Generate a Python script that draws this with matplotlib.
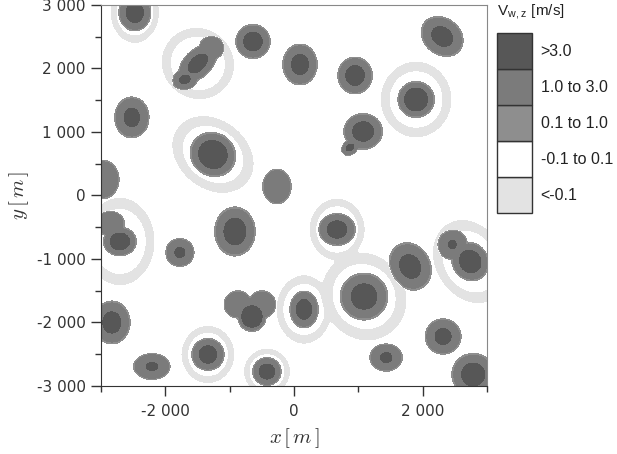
import numpy as np
import matplotlib
matplotlib.use('Agg')
import matplotlib.pyplot as plt
from matplotlib.ticker import MultipleLocator, FuncFormatter

plt.rcParams['mathtext.fontset'] = 'cm'

# thermals (m): centre, updraft radii, tilt, core size, downdraft ring radii
thermal_x = [-2474, -1494, -1696, -1276, -638, 93, 949, 2303, 1898, 1074, 871, -2521,
             -1260, -2972, -265, -2707, -2863, -1774, -918, 669, 1805, 2739, 2459,
             -2832, -2210, -654, -871, -498, 156, -1338, -420, 1089, 1432, 2318, 2785]
thermal_y = [2882, 2079, 1827, 2331, 2425, 2063, 1890, 2504, 1512, 1008, 756, 1229,
             646, 252, 142, -724, -441, -898, -567, -535, -1118, -1040, -772,
             -2000, -2693, -1906, -1717, -1717, -1795, -2504, -2772, -1591, -2552, -2221, -2819]
updraft_rx = [233, 340, 190, 180, 250, 250, 250, 330, 265, 280, 130, 250,
              340, 235, 205, 240, 210, 205, 295, 265, 360, 260, 220,
              265, 265, 205, 200, 200, 205, 235, 205, 345, 235, 260, 310]
updraft_ry = [270, 200, 150, 170, 250, 300, 270, 265, 265, 265, 100, 300,
              315, 285, 255, 210, 180, 205, 360, 235, 295, 290, 220,
              315, 190, 220, 200, 200, 270, 235, 205, 345, 200, 260, 310]
tilt_deg = [0, 45, 20, 0, 0, 0, 0, -40, 0, 0, 40, 0,
            -40, 0, 0, 0, 0, 0, 0, 0, -65, 30, 0,
            0, 0, 0, 0, 0, 0, 0, 0, 30, 0, 0, 0]
core_frac = [0.6, 0.55, 0.45, 0, 0.6, 0.55, 0.6, 0.55, 0.7, 0.6, 0.5, 0.5,
             0.7, 0, 0, 0.65, 0, 0.4, 0.6, 0.6, 0.55, 0.65, 0.3,
             0.55, 0.35, 0.8, 0, 0, 0.6, 0.6, 0.6, 0.6, 0.4, 0.5, 0.6]
ring_rx = [330, 480, 0, 0, 0, 0, 0, 0, 480, 0, 0, 0,
           600, 0, 0, 470, 0, 0, 0, 375, 0, 470, 0,
           0, 0, 0, 0, 0, 375, 360, 315, 560, 0, 0, 0]
ring_ry = [420, 500, 0, 0, 0, 0, 0, 0, 520, 0, 0, 0,
           470, 0, 0, 600, 0, 0, 0, 425, 0, 600, 0,
           0, 0, 0, 0, 0, 470, 395, 315, 615, 0, 0, 0]

levels = [-10, -0.1, 0.1, 1.0, 3.0, 10]
colors = ['#e3e3e3', '#ffffff', '#8e8e8e', '#7b7b7b', '#575757']
legend_labels = ['<-0.1', '-0.1 to 0.1', '0.1 to 1.0', '1.0 to 3.0', '>3.0']

xs = np.linspace(-3000, 3000, 500)
X, Y = np.meshgrid(xs, xs)
w_up = np.zeros_like(X)
w_down = np.zeros_like(X)
for i in range(len(thermal_x)):
    t = np.radians(tilt_deg[i])
    u = (X - thermal_x[i]) * np.cos(t) + (Y - thermal_y[i]) * np.sin(t)
    v = -(X - thermal_x[i]) * np.sin(t) + (Y - thermal_y[i]) * np.cos(t)
    d = np.sqrt((u / updraft_rx[i])**2 + (v / updraft_ry[i])**2)
    up = 2 * np.exp(-d**16)
    if core_frac[i] > 0:
        up += 2 * np.exp(-(d / core_frac[i])**10)
    w_up = np.maximum(w_up, up)
    if ring_rx[i] > 0:
        dr = np.sqrt((u / ring_rx[i])**2 + (v / ring_ry[i])**2)
        w_down -= 0.6 * np.exp(-((dr - 1) / 0.12)**2)
W = w_up + w_down

fig = plt.figure(figsize=(6.17, 4.54), dpi=100)
ax = fig.add_axes([0.1637, 0.1498, 0.6256, 0.8392])
ax.contourf(X, Y, W, levels=levels, colors=colors)
ax.set_xlim(-3000, 3000)
ax.set_ylim(-3000, 3000)

fmt = FuncFormatter(lambda val, pos: f'{int(val):,}'.replace(',', ' '))
ax.xaxis.set_major_locator(MultipleLocator(2000))
ax.xaxis.set_minor_locator(MultipleLocator(1000))
ax.yaxis.set_major_locator(MultipleLocator(1000))
ax.yaxis.set_minor_locator(MultipleLocator(500))
ax.xaxis.set_major_formatter(fmt)
ax.yaxis.set_major_formatter(fmt)
ax.tick_params(which='major', direction='out', length=7, width=1, color='#333333',
               labelsize=11, labelcolor='#333333', pad=4)
ax.tick_params(which='minor', direction='out', length=4, width=1, color='#333333')
ax.xaxis.set_tick_params(pad=6)
for side in ['left', 'bottom']:
    ax.spines[side].set_color('#333333')
for side in ['top', 'right']:
    ax.spines[side].set_color('#888888')
ax.set_xlabel(r'$x\,[\,m\,]$', fontsize=15, color='#333333', labelpad=5)
ax.set_ylabel(r'$y\,[\,m\,]$', fontsize=15, color='#333333', labelpad=4)

# legend boxes
lax = fig.add_axes([0.8055, 0.5308, 0.0567, 0.3965])
lax.barh(range(len(colors)), [1] * len(colors), height=1, color=colors,
         edgecolor='#333333', linewidth=1, clip_on=False)
lax.set_xlim(0, 1)
lax.set_ylim(-0.5, len(colors) - 0.5)
lax.axis('off')
for k, lab in enumerate(legend_labels):
    lax.text(1.25, k, lab, va='center', ha='left', fontsize=11.5,
             family='Liberation Sans', color='#222222', clip_on=False)
lax.text(0, len(colors) - 0.5 + 0.3, r'V$_{\mathregular{w,z}}$ [m/s]', va='bottom', ha='left',
         fontsize=11, family='Liberation Sans', color='#222222', clip_on=False)

fig.savefig('out.png', dpi=100)
